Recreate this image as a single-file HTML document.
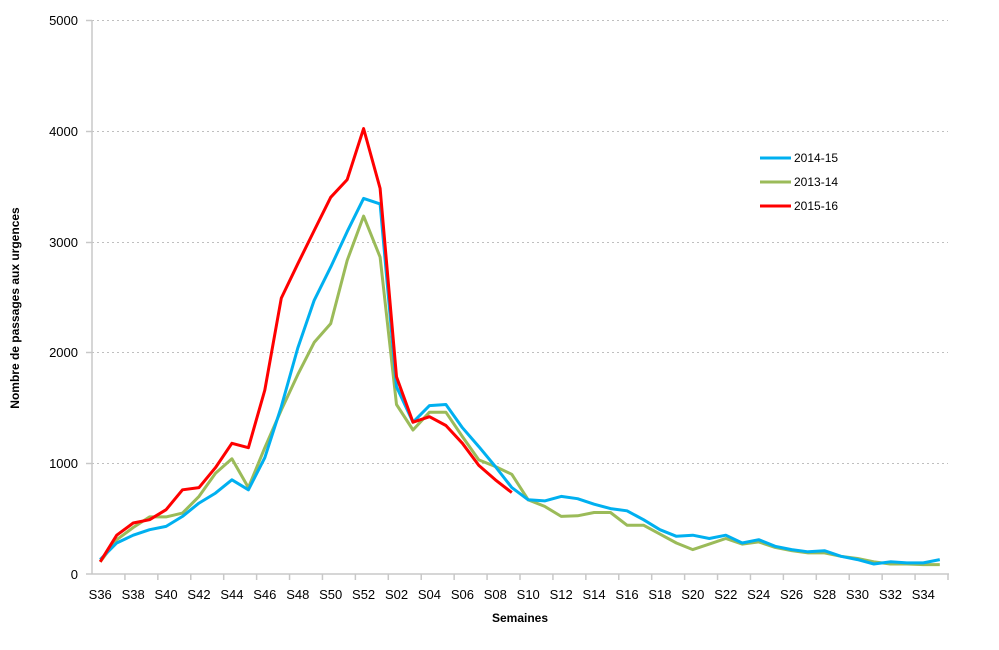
<!DOCTYPE html>
<html><head><meta charset="utf-8"><style>
html,body{margin:0;padding:0;background:#fff;}
svg{display:block;font-family:"Liberation Sans",sans-serif;}
</style></head><body>
<svg id="c" width="999" height="650" viewBox="0 0 999 650" xmlns="http://www.w3.org/2000/svg">
<g stroke="#bfbfbf" stroke-width="1" stroke-dasharray="2,3">
<line x1="92" y1="20.5" x2="948" y2="20.5"/>
<line x1="92" y1="131.5" x2="948" y2="131.5"/>
<line x1="92" y1="242.5" x2="948" y2="242.5"/>
<line x1="92" y1="352.5" x2="948" y2="352.5"/>
<line x1="92" y1="463.5" x2="948" y2="463.5"/>
</g>
<g stroke="#c8c8c8" stroke-width="1.5" id="ax">
<line x1="92" y1="20" x2="92" y2="574"/>
<line x1="86" y1="574" x2="949" y2="574"/>
<line x1="86" y1="20.5" x2="92" y2="20.5"/><line x1="86" y1="131.5" x2="92" y2="131.5"/><line x1="86" y1="242.5" x2="92" y2="242.5"/><line x1="86" y1="352.5" x2="92" y2="352.5"/><line x1="86" y1="463.5" x2="92" y2="463.5"/>
</g>
<g font-size="13" fill="#000" text-anchor="end">
<text x="78" y="25">5000</text><text x="78" y="136">4000</text><text x="78" y="247">3000</text><text x="78" y="357">2000</text><text x="78" y="468">1000</text><text x="78" y="579">0</text>
</g>
<g id="xl" font-size="13" text-anchor="middle"></g>
<text x="520" y="622" font-size="12" font-weight="bold" text-anchor="middle">Semaines</text>
<text transform="translate(19,308) rotate(-90)" font-size="12" font-weight="bold" text-anchor="middle">Nombre de passages aux urgences</text>
<g stroke-width="3" fill="none" stroke-linejoin="round">
<polyline id="g" stroke="#9bbb59"/>
<polyline id="b" stroke="#00b0f0"/>
<polyline id="r" stroke="#ff0000"/>
</g>
<line x1="760" y1="158" x2="791" y2="158" stroke="#00b0f0" stroke-width="3"/>
<line x1="760" y1="182" x2="791" y2="182" stroke="#9bbb59" stroke-width="3"/>
<line x1="760" y1="206" x2="791" y2="206" stroke="#ff0000" stroke-width="3"/>
<g font-size="12"><text x="794" y="162">2014-15</text><text x="794" y="186">2013-14</text><text x="794" y="210">2015-16</text></g>
</svg>
<script>
var W=856/52;function X(i){return 92+W*(i+0.5);}function Y(v){return 574-v*0.1108;}
var red=[110,350,460,490,580,760,780,960,1180,1140,1660,2490,2800,3100,3400,3560,4020,3480,1780,1370,1420,1340,1180,980,850,735];
var blue=[130,280,350,400,430,520,640,730,850,760,1050,1510,2040,2470,2770,3090,3390,3340,1690,1370,1520,1530,1320,1150,970,780,670,660,700,680,630,590,570,490,400,340,350,320,350,280,310,250,220,200,210,160,130,90,110,100,100,130];
var green=[110,310,420,515,515,550,700,910,1040,780,1140,1480,1800,2090,2260,2830,3230,2860,1530,1300,1460,1460,1240,1030,970,900,670,610,520,525,555,555,440,440,360,280,220,270,320,270,290,240,210,190,190,160,140,110,90,90,85,85];
function pts(a){return a.map(function(v,i){return X(i).toFixed(1)+","+Y(v).toFixed(1)}).join(" ");}
document.getElementById('r').setAttribute('points',pts(red));
document.getElementById('b').setAttribute('points',pts(blue));
document.getElementById('g').setAttribute('points',pts(green));
var ns="http://www.w3.org/2000/svg",ax=document.getElementById('ax'),xl=document.getElementById('xl');
for(var k=1;k<=26;k++){var l=document.createElementNS(ns,'line');var x=92+W*2*k;l.setAttribute('x1',x);l.setAttribute('x2',x);l.setAttribute('y1',574);l.setAttribute('y2',580);ax.appendChild(l);}
for(var i=0;i<52;i+=2){var w=i<17?36+i:i-16;var t=document.createElementNS(ns,'text');t.setAttribute('x',X(i));t.setAttribute('y',599);t.textContent='S'+(w<10?'0'+w:w);xl.appendChild(t);}
</script>
</body></html>
